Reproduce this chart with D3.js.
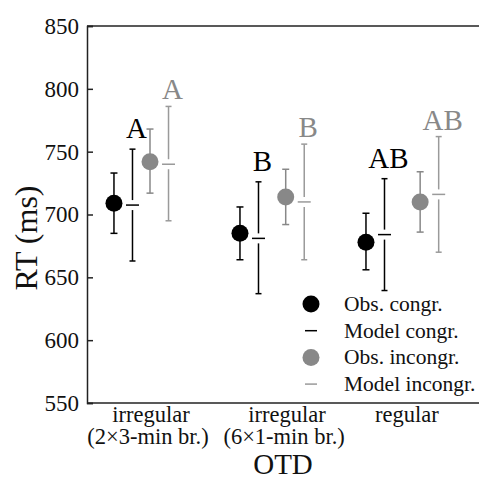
<!DOCTYPE html>
<html>
<head>
<meta charset="utf-8">
<script src="https://cdn.jsdelivr.net/npm/d3@7"></script>
<style>
  body { margin: 0; background: #fff; }
  text { font-family: "Liberation Serif", "DejaVu Serif", serif; }
</style>
</head>
<body>
<script>
// categories (OTD) and where their labels sit on the x axis (data units)
var groupLine1 = ["irregular", "irregular", "regular"];
var groupLine2 = ["(2\u00d73-min br.)", "(6\u00d71-min br.)", ""];
var groupTickX = [1.29, 2.37, 3.32];

// x values the original plotted each condition at
var xCongr = [1, 2, 3];
var xIncongr = [1.286, 2.363, 3.43];
var modelShift = 0.147;

// RT values (ms)
var obsCongr    = [709, 685, 678];
var obsCongrLo  = [685, 664, 656];
var obsCongrHi  = [733, 706, 701];
var modCongr    = [707.5, 681, 684];
var modCongrLo  = [663, 637, 639.5];
var modCongrHi  = [752, 726, 728.5];
var obsIncongr   = [742, 714, 710];
var obsIncongrLo = [717, 692, 686];
var obsIncongrHi = [768, 736, 734];
var modIncongr   = [740, 710, 716];
var modIncongrLo = [695, 664, 670];
var modIncongrHi = [786, 756, 762];

// significance letters
var lettersCongr = ["A", "B", "AB"];
var lettersIncongr = ["A", "B", "AB"];

var yTicks = [550, 600, 650, 700, 750, 800, 850];
var legendLabels = ["Obs. congr.", "Model congr.", "Obs. incongr.", "Model incongr."];

var W = 479, H = 479;
var plotLeft = 87, plotTop = 26, plotBottom = 403, plotRight = 479;

var svg = d3.select("body").append("svg")
  .attr("width", W).attr("height", H);

var x = d3.scaleLinear().domain([0.786, 3.897]).range([plotLeft, plotRight]);
var y = d3.scaleLinear().domain([550, 850]).range([plotBottom, plotTop]);

var black = "#000", grayObs = "#888", grayMod = "#9a9a9a";

// spines
svg.append("line").attr("x1", plotLeft).attr("x2", plotRight).attr("y1", plotTop).attr("y2", plotTop)
  .attr("stroke", "#222").attr("stroke-width", 1.5);
svg.append("line").attr("x1", plotLeft).attr("x2", plotRight).attr("y1", plotBottom).attr("y2", plotBottom)
  .attr("stroke", "#222").attr("stroke-width", 1.5);

// y axis
var yAxis = svg.append("g")
  .attr("transform", "translate(" + plotLeft + ",0)")
  .call(d3.axisLeft(y).tickValues(yTicks).tickSize(-6).tickPadding(8).tickFormat(d3.format("d")));
yAxis.select(".domain").attr("stroke", "#222").attr("stroke-width", 1.5);
yAxis.selectAll(".tick line").attr("stroke", "#222").attr("stroke-width", 1.5);
yAxis.selectAll(".tick text").attr("font-size", 23).attr("fill", "#111");

// x axis labels
var xAxis = svg.append("g")
  .attr("transform", "translate(0," + plotBottom + ")")
  .call(d3.axisBottom(x).tickValues(groupTickX).tickSize(0).tickFormat(""));
xAxis.select(".domain").remove();
xAxis.selectAll(".tick").each(function(d, i) {
  var g = d3.select(this);
  g.append("text").attr("y", 19).attr("text-anchor", "middle")
    .attr("font-size", 22.5).attr("fill", "#111").text(groupLine1[i]);
  g.append("text").attr("x", -3).attr("y", 41).attr("text-anchor", "middle")
    .attr("font-size", 22.5).attr("fill", "#111").text(groupLine2[i]);
});

// axis titles
svg.append("text").attr("x", 283).attr("y", 474).attr("text-anchor", "middle")
  .attr("font-size", 29).attr("fill", "#111").text("OTD");
svg.append("text").attr("transform", "translate(37,238) rotate(-90)")
  .attr("text-anchor", "middle").attr("font-size", 32).attr("fill", "#111").text("RT (ms)");

function errBar(xs, lo, hi, color, cap) {
  svg.append("g").selectAll("g").data(xs).enter().append("g").each(function(d, i) {
    var g = d3.select(this), cx = x(d);
    g.append("line").attr("x1", cx).attr("x2", cx).attr("y1", y(lo[i])).attr("y2", y(hi[i]))
      .attr("stroke", color).attr("stroke-width", 1.5);
    [lo[i], hi[i]].forEach(function(v) {
      g.append("line").attr("x1", cx - cap).attr("x2", cx + cap).attr("y1", y(v)).attr("y2", y(v))
        .attr("stroke", color).attr("stroke-width", 1.5);
    });
  });
}

function modelBar(xs, mid, lo, hi, color) {
  svg.append("g").selectAll("g").data(xs).enter().append("g").each(function(d, i) {
    var g = d3.select(this), cx = x(d + modelShift), cy = y(mid[i]);
    g.append("line").attr("x1", cx).attr("x2", cx).attr("y1", y(hi[i])).attr("y2", cy - 5)
      .attr("stroke", color).attr("stroke-width", 1.5);
    g.append("line").attr("x1", cx).attr("x2", cx).attr("y1", cy + 5).attr("y2", y(lo[i]))
      .attr("stroke", color).attr("stroke-width", 1.5);
    [lo[i], hi[i]].forEach(function(v) {
      g.append("line").attr("x1", cx - 3).attr("x2", cx + 3).attr("y1", y(v)).attr("y2", y(v))
        .attr("stroke", color).attr("stroke-width", 1.5);
    });
    g.append("line").attr("x1", cx - 6.5).attr("x2", cx + 6.5).attr("y1", cy).attr("y2", cy)
      .attr("stroke", color).attr("stroke-width", 1.5);
  });
}

// observed: error bars then dots
errBar(xCongr, obsCongrLo, obsCongrHi, black, 3.5);
svg.append("g").selectAll("circle").data(obsCongr).enter().append("circle")
  .attr("cx", function(d, i) { return x(xCongr[i]); })
  .attr("cy", function(d) { return y(d); })
  .attr("r", 8.5).attr("fill", black);
modelBar(xCongr, modCongr, modCongrLo, modCongrHi, black);

errBar(xIncongr, obsIncongrLo, obsIncongrHi, grayObs, 3.5);
svg.append("g").selectAll("circle").data(obsIncongr).enter().append("circle")
  .attr("cx", function(d, i) { return x(xIncongr[i]); })
  .attr("cy", function(d) { return y(d); })
  .attr("r", 8.5).attr("fill", grayObs);
modelBar(xIncongr, modIncongr, modIncongrLo, modIncongrHi, grayMod);

// letters above model bars
svg.append("g").selectAll("text").data(lettersCongr).enter().append("text")
  .attr("x", function(d, i) { return x(xCongr[i] + modelShift) + 4; })
  .attr("y", function(d, i) { return y(modCongrHi[i]) - 11; })
  .attr("text-anchor", "middle").attr("font-size", 29).attr("fill", black)
  .text(function(d) { return d; });
svg.append("g").selectAll("text").data(lettersIncongr).enter().append("text")
  .attr("x", function(d, i) { return x(xIncongr[i] + modelShift) + 4; })
  .attr("y", function(d, i) { return y(modIncongrHi[i]) - 7; })
  .attr("text-anchor", "middle").attr("font-size", 29).attr("fill", grayObs)
  .text(function(d) { return d; });

// legend
var leg = svg.append("g").selectAll("g").data(legendLabels).enter().append("g")
  .attr("transform", function(d, i) { return "translate(311," + (304 + i * 26.7) + ")"; });
leg.each(function(d, i) {
  var g = d3.select(this);
  if (i % 2 === 0) {
    g.append("circle").attr("r", 8.5).attr("fill", i === 0 ? black : grayObs);
  } else {
    g.append("line").attr("x1", -6).attr("x2", 6)
      .attr("stroke", i === 1 ? black : grayMod).attr("stroke-width", 1.5);
  }
  g.append("text").attr("x", 33).attr("y", 7).attr("font-size", 21.5).attr("fill", "#111").text(d);
});
</script>
</body>
</html>
